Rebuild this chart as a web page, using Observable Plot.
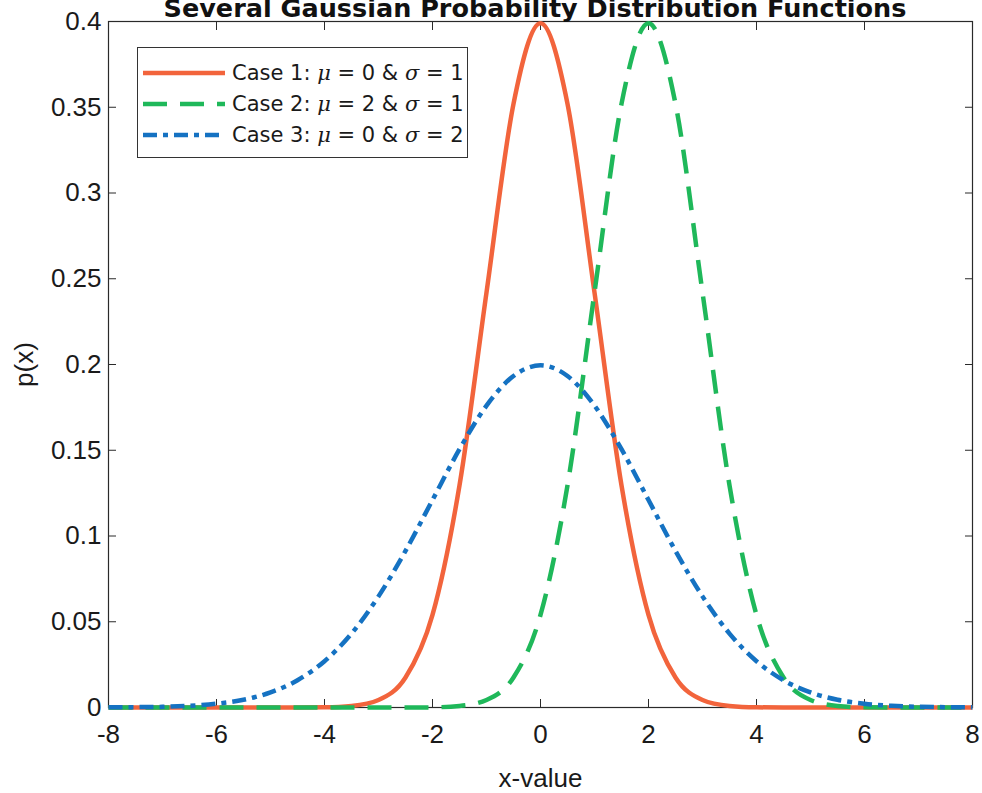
<!DOCTYPE html>
<html><head><meta charset="utf-8">
<script src="https://cdn.jsdelivr.net/npm/d3@7"></script>
<script src="https://cdn.jsdelivr.net/npm/@observablehq/plot@0.6"></script>
<style>
body{margin:0;background:#fff;font-family:"Liberation Sans",Arial,sans-serif;}
#wrap{position:relative;width:982px;height:793px;overflow:hidden;}
#title{position:absolute;top:-4.5px;left:135px;width:800px;text-align:center;font-weight:bold;font-size:25.5px;line-height:1;color:#111;font-family:"DejaVu Sans",sans-serif;white-space:nowrap;}
#legend{position:absolute;left:137px;top:47px;width:331px;height:111px;border:1.5px solid #333;background:#fff;box-sizing:border-box;}
.row{position:absolute;left:0;height:30px;display:flex;align-items:center;font-size:21px;color:#1a1a1a;white-space:nowrap;font-family:"DejaVu Sans",sans-serif;}
.row svg{margin-left:5px;margin-right:7px;}
.g{font-family:"DejaVu Serif",serif;font-style:italic;}
</style></head>
<body><div id="wrap"><div id="title">Several Gaussian Probability Distribution Functions</div><div id="chart"></div><div id="legend"></div></div>
<script>
const xs = [-8,-7.5,-7,-6.5,-6,-5.5,-5,-4.5,-4,-3.5,-3,-2.5,-2,-1.5,-1,-0.5,0,0.5,1,1.5,2,2.5,3,3.5,4,4.5,5,5.5,6,6.5,7,7.5,8];
const case1 = [0,0,0,0,0,0,0,0,0.0001,0.0009,0.0044,0.0175,0.054,0.1295,0.242,0.352,0.399,0.352,0.242,0.1295,0.054,0.0175,0.0044,0.0009,0.0001,0,0,0,0,0,0,0,0];
const case2 = [0,0,0,0,0,0,0,0,0,0,0,0,0.0001,0.0009,0.0044,0.0175,0.054,0.1295,0.242,0.352,0.399,0.352,0.242,0.1295,0.054,0.0175,0.0044,0.0009,0.0001,0,0,0,0];
const case3 = [0.0001,0.0002,0.0004,0.001,0.0022,0.0045,0.0088,0.0159,0.027,0.0431,0.0648,0.0913,0.121,0.1506,0.176,0.1933,0.1995,0.1933,0.176,0.1506,0.121,0.0913,0.0648,0.0431,0.027,0.0159,0.0088,0.0045,0.0022,0.001,0.0004,0.0002,0.0001];
const xTicks = [-8,-6,-4,-2,0,2,4,6,8];
const yTicks = [0,0.05,0.1,0.15,0.2,0.25,0.3,0.35,0.4];
const seriesNames = ["Case 1", "Case 2", "Case 3"];
const seriesColors = ["#f2643c", "#1fb85a", "#1572c2"];
const seriesDash = [null, "24,13", "14,6,5,6"];
const legendParams = [["0","1"],["2","1"],["0","2"]];

const allSeries = [case1, case2, case3];
const rows = [];
allSeries.forEach((arr, i) => arr.forEach((v, j) => rows.push({series: seriesNames[i], x: xs[j], y: v})));

const axisStyle = {stroke: "#2a2a2a", fill: "#1a1a1a", fontSize: 26};
const marks = [
  Plot.frame({stroke: "#2a2a2a", strokeWidth: 1.2}),
  Plot.axisX(xTicks, {...axisStyle, anchor: "bottom", tickSize: -8, tickPadding: 25, tickFormat: d => String(d),
    label: "x-value", labelArrow: "none", labelAnchor: "center", labelOffset: 79}),
  Plot.axisX(xTicks, {...axisStyle, anchor: "top", tickSize: -8, tickFormat: () => "", label: null}),
  Plot.axisY(yTicks, {...axisStyle, anchor: "left", tickSize: -8, tickPadding: 15, tickFormat: d => String(d),
    label: "p(x)", labelArrow: "none", labelAnchor: "center", labelOffset: 94}),
  Plot.axisY(yTicks, {...axisStyle, anchor: "right", tickSize: -8, tickFormat: () => "", label: null})
];
seriesNames.forEach((name, i) => {
  marks.push(Plot.line(rows.filter(r => r.series === name), {
    x: "x", y: "y", stroke: seriesColors[i], strokeWidth: 4.5,
    strokeDasharray: seriesDash[i], curve: "monotone-x", strokeLinecap: "butt"
  }));
});

const chart = Plot.plot({
  width: 982, height: 793,
  marginLeft: 108, marginRight: 10, marginTop: 21, marginBottom: 86,
  x: {domain: [-8, 8]},
  y: {domain: [0, 0.4]},
  style: {fontFamily: "'Liberation Sans', Arial, sans-serif", fontSize: "26px", color: "#1a1a1a", background: "transparent"},
  marks
});
document.getElementById("chart").appendChild(chart);

const legend = document.getElementById("legend");
seriesNames.forEach((name, i) => {
  const r = document.createElement("div");
  r.className = "row";
  r.style.top = (10 + i * 31) + "px";
  const dash = seriesDash[i] ? `stroke-dasharray="${seriesDash[i]}"` : "";
  r.innerHTML = `<svg width="82" height="10"><line x1="0" y1="5" x2="82" y2="5" stroke="${seriesColors[i]}" stroke-width="4.5" ${dash}/></svg>` +
    `<span>${name}: <span class="g">μ</span> = ${legendParams[i][0]} &amp; <span class="g">σ</span> = ${legendParams[i][1]}</span>`;
  legend.appendChild(r);
});
</script></body></html>
